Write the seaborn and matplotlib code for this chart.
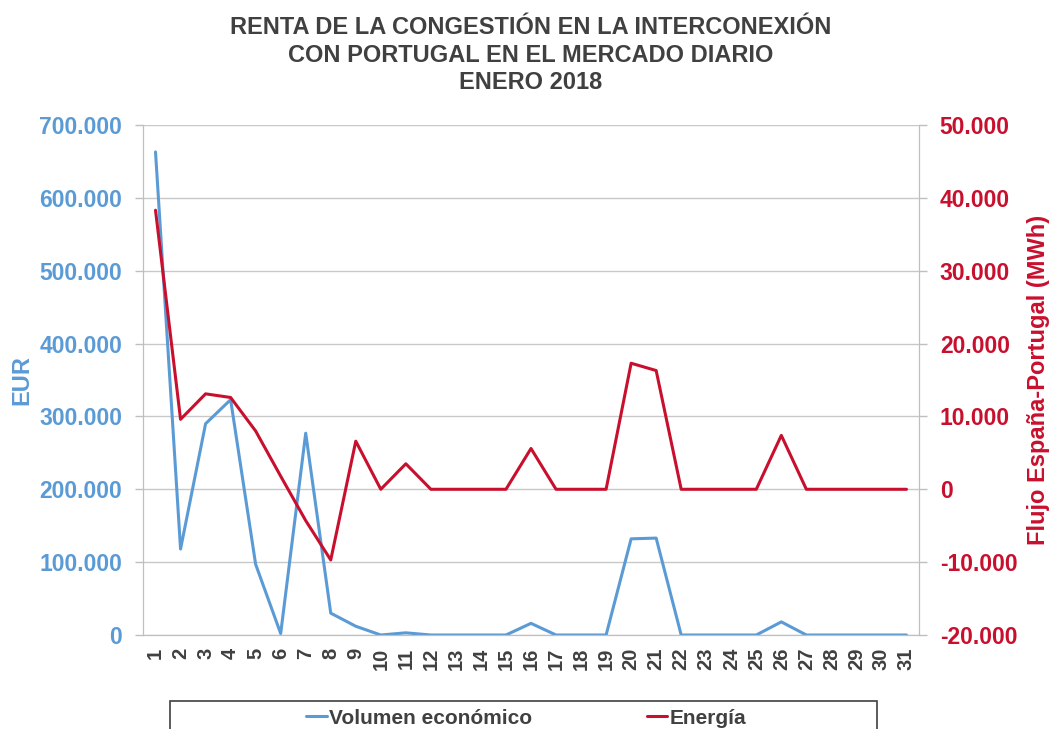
import numpy as np
import pandas as pd
import seaborn as sns
import matplotlib.pyplot as plt
from matplotlib.patches import Rectangle
from matplotlib.ticker import FuncFormatter, MultipleLocator

# datos
dias = list(range(1, 32))
volumen = [663000, 118000, 290000, 323000, 97000, 2000, 277000, 30000, 12000, 0,
           3000, 0, 0, 0, 0, 16000, 0, 0, 0, 132000,
           133000, 0, 0, 0, 0, 18000, 0, 0, 0, 0, 0]
energia = [38300, 9600, 13100, 12600, 8000, 1800, -4300, -9700, 6600, 0,
           3500, 0, 0, 0, 0, 5600, 0, 0, 0, 17300,
           16300, 0, 0, 0, 0, 7400, 0, 0, 0, 0, 0]

azul = '#5b9bd5'
rojo = '#c8102e'
gris = '#404040'

sns.set_style('white')
plt.rcParams['font.family'] = ['Liberation Sans', 'DejaVu Sans']
plt.rcParams['font.weight'] = 'bold'

df = pd.DataFrame({'dia': dias, 'volumen': volumen, 'energia': energia})

fig = plt.figure(figsize=(10.5, 7.29), dpi=100)
ax = fig.add_axes([143/1050, 94/729, 776/1050, 510/729])
ax2 = ax.twinx()

sns.lineplot(data=df, x='dia', y='volumen', ax=ax, color=azul, lw=2.2, label='Volumen económico')
sns.lineplot(data=df, x='dia', y='energia', ax=ax2, color=rojo, lw=2.2, label='Energía')

def miles(v, pos):
    return f"{int(round(v)):,}".replace(',', '.')

ax.set_xlim(0.5, 31.5)
ax.set_ylim(0, 700000)
ax2.set_ylim(-20000, 50000)
ax.yaxis.set_major_locator(MultipleLocator(100000))
ax2.yaxis.set_major_locator(MultipleLocator(10000))
ax.yaxis.set_major_formatter(FuncFormatter(miles))
ax2.yaxis.set_major_formatter(FuncFormatter(miles))

ax.set_xticks(dias)
ax.set_xticklabels([str(d) for d in dias], rotation=90, fontsize=14.5, color=gris, fontweight='bold')
ax.set_xticks(np.arange(0.5, 32, 1), minor=True)
ax.tick_params(axis='x', which='major', length=0, pad=9)
ax.tick_params(axis='x', which='minor', length=7, width=1, color='#bfbfbf')

ax.tick_params(axis='y', length=6, width=1, color='#bfbfbf', labelsize=16.5, labelcolor=azul, pad=9)
ax2.tick_params(axis='y', length=6, width=1, color='#bfbfbf', labelsize=16.5, labelcolor=rojo, pad=9)
for lab in ax.get_yticklabels() + ax2.get_yticklabels():
    lab.set_fontweight('bold')

ax.grid(axis='y', color='#c8c8c8', lw=1)
ax.set_axisbelow(True)
for a in (ax, ax2):
    for s in a.spines.values():
        s.set_color('#bfbfbf')
    a.spines['top'].set_visible(False)

ax.set_xlabel('')
ax.set_ylabel('EUR', fontsize=17, color=azul, fontweight='bold', labelpad=4)
ax2.set_ylabel('Flujo España-Portugal (MWh)', fontsize=17, color=rojo, fontweight='bold', labelpad=7)

fig.text(531/1050, 1 - 55/729,
         'RENTA DE LA CONGESTIÓN EN LA INTERCONEXIÓN\nCON PORTUGAL EN EL MERCADO DIARIO\nENERO 2018',
         ha='center', va='center', fontsize=17, fontweight='bold', color=gris, linespacing=1.25)

# leyenda abajo
h1, l1 = ax.get_legend_handles_labels()
h2, l2 = ax2.get_legend_handles_labels()
ax.get_legend().remove()
ax2.get_legend().remove()
fig.legend(h1 + h2, l1 + l2, loc='center', bbox_to_anchor=(526/1050, 1 - 718/729), ncol=2,
           frameon=False, handlelength=1.0, handletextpad=0.1, columnspacing=5.5,
           prop={'size': 15, 'weight': 'bold'}, labelcolor=gris)
fig.patches.append(Rectangle((170/1050, -0.05), 707/1050, 0.05 + 1 - 701/729,
                             transform=fig.transFigure, fill=False, edgecolor=gris, lw=1.2))

plt.savefig('out.png', dpi=100)
